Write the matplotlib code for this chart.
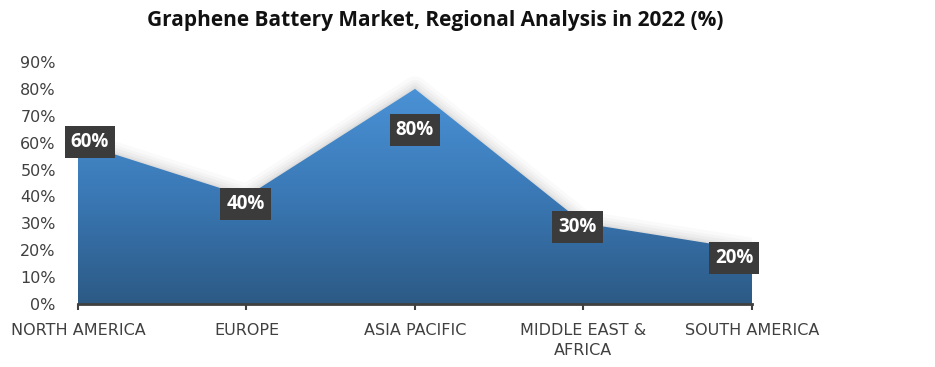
import matplotlib
matplotlib.use("Agg")
import matplotlib.pyplot as plt
import numpy as np
from matplotlib.colors import LinearSegmentedColormap
from matplotlib.path import Path
from matplotlib.patches import PathPatch

categories = ["NORTH AMERICA", "EUROPE", "ASIA PACIFIC", "MIDDLE EAST &\nAFRICA", "SOUTH AMERICA"]
values = [60, 40, 80, 30, 20]
yticks = [0, 10, 20, 30, 40, 50, 60, 70, 80, 90]
title = "Graphene Battery Market, Regional Analysis in 2022 (%)"

# label offsets in pixels (dx, dy)
label_offsets = [(12, 1), (-1, -8), (0, -41), (-6, -4), (-18, -8)]

fig = plt.figure(figsize=(9.35, 3.67), dpi=100)
ax = fig.add_axes([78/935, 63/367, (752-78)/935, (304-62)/367])
x = np.arange(len(categories))
ax.set_xlim(0, len(categories) - 1)
ax.set_ylim(0, 90)

# soft shadow above area
for w, a in [(18, 0.03), (13, 0.04), (9, 0.05), (5, 0.06), (2, 0.07)]:
    ax.plot(x, values, color="#707070", lw=w, alpha=a, solid_joinstyle="round",
            solid_capstyle="butt", zorder=1)

# gradient fill
cmap = LinearSegmentedColormap.from_list("g", ["#2c5a85", "#3a78b5", "#4a92d6"])
grad = np.linspace(0, 1, 256).reshape(-1, 1)
im = ax.imshow(grad, extent=[0, len(categories) - 1, 0, 80], origin="lower",
               aspect="auto", cmap=cmap, zorder=2)
verts = [(0, 0)] + list(zip(x, values)) + [(len(categories) - 1, 0), (0, 0)]
codes = [Path.MOVETO] + [Path.LINETO] * (len(verts) - 2) + [Path.CLOSEPOLY]
patch = PathPatch(Path(verts, codes), facecolor="none", edgecolor="none")
ax.add_patch(patch)
im.set_clip_path(patch)

for xi, v, (dx, dy) in zip(x, values, label_offsets):
    ax.annotate(f"{v}%", (xi, v), xytext=(dx * 0.72, dy * 0.72), textcoords="offset points",
                ha="center", va="center", color="white", fontsize=13.5, fontweight="bold",
                family="Open Sans",
                bbox=dict(boxstyle="square,pad=0.32", fc="#3b3b3b", ec="none"), zorder=5)

ax.set_yticks(yticks)
ax.set_yticklabels([f"{t}%" for t in yticks], fontsize=11.5, color="#404040")
ax.set_xticks(x)
ax.set_xticklabels(categories, fontsize=11.5, color="#404040", linespacing=1.4)
ax.tick_params(axis="y", length=0, pad=16)
ax.tick_params(axis="x", length=4, width=1.5, color="#404040", direction="out", pad=10)
for s in ["top", "right", "left"]:
    ax.spines[s].set_visible(False)
ax.spines["bottom"].set_color("#404040")
ax.spines["bottom"].set_linewidth(2)
ax.spines["bottom"].set_zorder(6)

fig.text(0.466, 0.945, title, ha="center", va="center", fontsize=15, fontweight="bold",
         family="Open Sans", color="#111111")

fig.savefig("out.png", dpi=100)
